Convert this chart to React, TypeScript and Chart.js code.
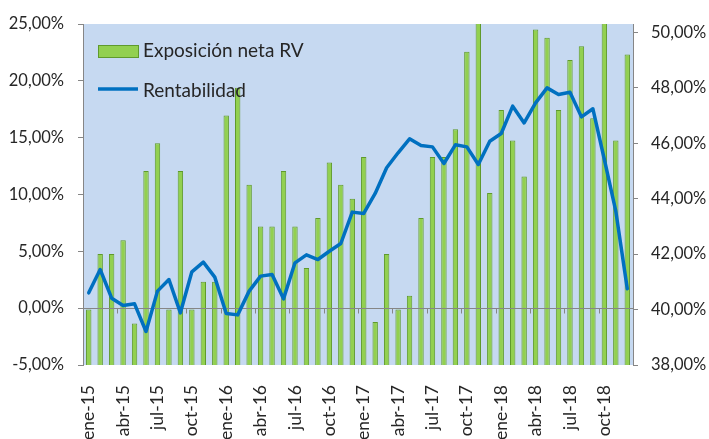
import React, { useEffect, useRef } from "react";
import { Chart, registerables } from "chart.js";

Chart.register(...registerables);

const MONTHS = ["ene", "feb", "mar", "abr", "may", "jun", "jul", "ago", "sep", "oct", "nov", "dic"];
const YEARS = ["15", "16", "17", "18"];
const categories: string[] = [];
YEARS.forEach((y) => MONTHS.forEach((m) => categories.push(`${m}-${y}`)));

// Exposición neta RV (bars, right axis)
const exposicion = [
  40.0, 42.0, 42.0, 42.5, 39.5, 45.0, 46.0, 40.0, 45.0, 40.0, 41.0, 41.0,
  47.0, 48.0, 44.5, 43.0, 43.0, 45.0, 43.0, 41.5, 43.3, 45.3, 44.5, 44.0,
  45.5, 39.55, 42.0, 40.0, 40.5, 43.3, 45.5, 45.5, 46.5, 49.3, 50.5, 44.2,
  47.2, 46.1, 44.8, 50.1, 49.8, 47.2, 49.0, 49.5, 46.9, 50.5, 46.1, 49.2,
];

// Rentabilidad (line, left axis)
const rentabilidad = [
  1.35, 3.4, 0.88, 0.23, 0.38, -2.05, 1.5, 2.52, -0.41, 3.2, 4.05, 2.73,
  -0.47, -0.59, 1.5, 2.82, 2.96, 0.82, 3.99, 4.69, 4.28, 5.01, 5.69, 8.45,
  8.33, 10.09, 12.35, 13.67, 14.9, 14.31, 14.19, 12.73, 14.37, 14.19, 12.64, 14.69,
  15.37, 17.77, 16.3, 18.06, 19.38, 18.8, 19.0, 16.83, 17.54, 13.08, 8.53, 1.7,
];

const leftTicks = [-5, 0, 5, 10, 15, 20, 25];
const rightTicks = [38, 40, 42, 44, 46, 48, 50];

const FONT = "Lato";
const TEXT = "#262626";
const AXIS = "#868686";
const BAR_FILL = "#92D050";
const BAR_BORDER = "#5F9A2C";
const LINE = "#0070C0";
const PLOT_BG = "#C6D9F1";

const fmt = (v: number) => v.toFixed(2).replace(".", ",") + "%";

const plotBg = {
  id: "plotBg",
  beforeDraw(chart: any) {
    const { ctx, chartArea: ca } = chart;
    ctx.save();
    ctx.fillStyle = PLOT_BG;
    ctx.fillRect(ca.left, ca.top, ca.right - ca.left, ca.bottom - ca.top);
    ctx.restore();
  },
};

const zeroLine = {
  id: "zeroLine",
  afterDatasetDraw(chart: any, args: any) {
    if (args.meta.type !== "bar") return;
    const { ctx, chartArea: ca } = chart;
    const y = Math.round(chart.scales.y.getPixelForValue(0)) + 0.5;
    const xs = chart.scales.x;
    ctx.save();
    ctx.strokeStyle = AXIS;
    ctx.lineWidth = 1;
    ctx.beginPath();
    ctx.moveTo(ca.left, y);
    ctx.lineTo(ca.right, y);
    for (let k = 3; k < categories.length; k += 3) {
      const x = Math.round((xs.getPixelForValue(k - 1) + xs.getPixelForValue(k)) / 2) + 0.5;
      ctx.moveTo(x, y);
      ctx.lineTo(x, y + 5);
    }
    ctx.stroke();
    ctx.restore();
  },
};

const innerLegend = {
  id: "innerLegend",
  afterDraw(chart: any) {
    const { ctx, chartArea: ca } = chart;
    const ds = chart.data.datasets;
    const bar = ds.find((d: any) => d.type === "bar");
    const line = ds.find((d: any) => d.type === "line");
    const x0 = ca.left + 15;
    ctx.save();
    ctx.font = `19px ${FONT}`;
    ctx.textBaseline = "middle";
    // bar item
    ctx.fillStyle = BAR_FILL;
    ctx.fillRect(x0, ca.top + 21, 40, 12);
    ctx.strokeStyle = BAR_BORDER;
    ctx.lineWidth = 1;
    ctx.strokeRect(x0 + 0.5, ca.top + 21.5, 40, 12);
    ctx.fillStyle = TEXT;
    ctx.fillText(bar.label, x0 + 45, ca.top + 27);
    // line item
    ctx.strokeStyle = LINE;
    ctx.lineWidth = 3.5;
    ctx.beginPath();
    ctx.moveTo(x0, ca.top + 65);
    ctx.lineTo(x0 + 40, ca.top + 65);
    ctx.stroke();
    ctx.fillText(line.label, x0 + 45, ca.top + 67);
    ctx.restore();
  },
};

export default function App() {
  const ref = useRef<HTMLCanvasElement | null>(null);

  useEffect(() => {
    if (!ref.current) return;
    const chart = new Chart(ref.current, {
      data: {
        labels: categories,
        datasets: [
          {
            type: "line",
            label: "Rentabilidad",
            data: rentabilidad,
            yAxisID: "y",
            borderColor: LINE,
            backgroundColor: LINE,
            borderWidth: 3.5,
            pointRadius: 0,
            tension: 0,
            borderJoinStyle: "round",
            borderCapStyle: "round",
            order: 0,
          },
          {
            type: "bar",
            label: "Exposición neta RV",
            data: exposicion,
            yAxisID: "y1",
            backgroundColor: BAR_FILL,
            borderColor: BAR_BORDER,
            borderWidth: 1,
            barPercentage: 0.47,
            categoryPercentage: 1,
            order: 1,
          },
        ],
      } as any,
      options: {
        animation: false,
        responsive: true,
        maintainAspectRatio: false,
        layout: { padding: { top: 24, left: 0, right: 0, bottom: 0 } },
        plugins: {
          legend: { display: false },
          tooltip: { enabled: false },
        },
        scales: {
          x: {
            type: "category",
            grid: { display: false, drawTicks: false },
            border: { display: false },
            ticks: {
              autoSkip: false,
              maxRotation: 90,
              minRotation: 90,
              padding: 20,
              color: TEXT,
              font: { family: FONT, size: 17.5 },
              callback: (_v: any, i: number) => (i % 3 === 0 ? categories[i] : null),
            },
            afterFit: (s: any) => {
              s.height = 74;
            },
          },
          y: {
            type: "linear",
            position: "left",
            min: -5,
            max: 25,
            grid: { drawOnChartArea: false, drawTicks: true, tickLength: 5, tickColor: AXIS },
            border: { display: true, color: AXIS },
            afterBuildTicks: (s: any) => {
              s.ticks = leftTicks.map((v) => ({ value: v }));
            },
            ticks: {
              padding: 14,
              color: TEXT,
              font: { family: FONT, size: 16.5 },
              callback: (v: any) => fmt(Number(v)),
            },
            afterFit: (s: any) => {
              s.width = 83;
            },
          },
          y1: {
            type: "linear",
            position: "right",
            min: 38,
            max: 50.3,
            grid: { drawOnChartArea: false, drawTicks: true, tickLength: 5, tickColor: AXIS },
            border: { display: true, color: AXIS },
            afterBuildTicks: (s: any) => {
              s.ticks = rightTicks.map((v) => ({ value: v }));
            },
            ticks: {
              padding: 13,
              color: TEXT,
              font: { family: FONT, size: 16.5 },
              callback: (v: any) => fmt(Number(v)),
            },
            afterFit: (s: any) => {
              s.width = 76;
            },
          },
        },
      } as any,
      plugins: [plotBg, zeroLine, innerLegend],
    });
    return () => chart.destroy();
  }, []);

  return (
    <div style={{ position: "fixed", left: 0, top: 0, width: 709, height: 439, background: "#fff" }}>
      <canvas ref={ref} />
    </div>
  );
}
